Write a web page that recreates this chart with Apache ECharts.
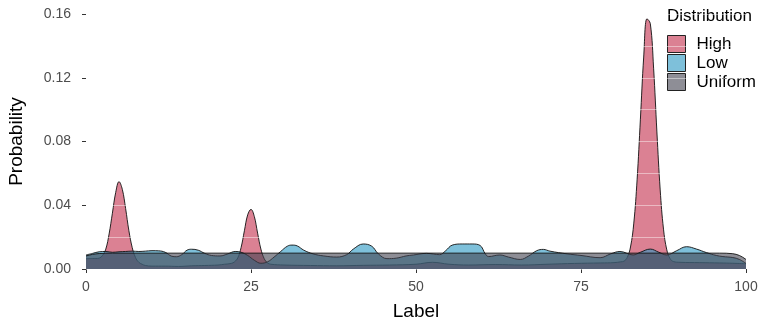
<!DOCTYPE html>
<html>
<head>
<meta charset="utf-8">
<script src="https://cdn.jsdelivr.net/npm/echarts@6/dist/echarts.min.js"></script>
<style>
  html, body { margin: 0; padding: 0; background: #fff; }
  #chart { width: 761px; height: 326px; }
</style>
</head>
<body>
<div id="chart"></div>
<script>
// density curves, as [label, probability]
var highPts = [
  [0, 0.0065], [1, 0.0066], [1.5, 0.0066], [2, 0.0068], [2.5, 0.0085], [3, 0.0125], [3.5, 0.022],
  [4, 0.035], [4.5, 0.048], [5, 0.0548], [5.5, 0.050], [6, 0.038], [6.5, 0.024], [7, 0.0135],
  [7.5, 0.0072], [8, 0.0042], [8.5, 0.003], [9, 0.0022], [10, 0.0018], [12, 0.0018], [14, 0.0016],
  [16, 0.002], [18, 0.0022], [20, 0.0025], [21, 0.003], [22, 0.0035], [22.5, 0.0045], [23, 0.007],
  [23.5, 0.0135], [24, 0.024], [24.5, 0.034], [25, 0.0374], [25.5, 0.033], [26, 0.0225], [26.5, 0.0125],
  [27, 0.0065], [27.5, 0.0038], [28, 0.003], [30, 0.0025], [34, 0.0022], [38, 0.002], [42, 0.0023],
  [46, 0.0025], [50, 0.003], [52.5, 0.0042], [55, 0.003], [58, 0.0025], [62, 0.0028], [66, 0.0025],
  [70, 0.003], [74, 0.0035], [78, 0.0038], [80, 0.004], [81, 0.0045], [81.5, 0.0049], [82, 0.0072],
  [82.5, 0.0138], [83, 0.0288], [83.5, 0.056], [84, 0.094], [84.5, 0.133], [85, 0.157], [85.5, 0.154],
  [86, 0.126], [86.5, 0.086], [87, 0.0496], [87.5, 0.025], [88, 0.012], [88.5, 0.0065], [89, 0.0047],
  [90, 0.0042], [93, 0.004], [96, 0.0038], [98, 0.0036], [100, 0.0033]
];
var lowPts = [
  [0, 0.0088], [1, 0.0098], [2, 0.0108], [3, 0.011], [4, 0.0105], [5, 0.0108], [6, 0.011],
  [7, 0.0112], [8, 0.011], [9, 0.0112], [10, 0.0115], [11, 0.0114], [12, 0.0105], [13, 0.008],
  [13.7, 0.0077], [14.5, 0.009], [15.3, 0.0118], [16, 0.0124], [17, 0.0118], [18, 0.0098], [19, 0.0085],
  [20.3, 0.0082], [21.5, 0.0095], [22.6, 0.011], [23.5, 0.0105], [24.5, 0.0085], [25.5, 0.0055],
  [26.5, 0.0036], [27.5, 0.0045], [28.5, 0.0075], [29.5, 0.011], [30.5, 0.0143], [31.2, 0.015],
  [32, 0.0145], [33, 0.0118], [34.4, 0.0095], [36, 0.0082], [38, 0.0075], [39.5, 0.009], [40.5, 0.0125],
  [42, 0.0157], [43.3, 0.0143], [44.3, 0.0095], [45.6, 0.0065], [47, 0.0068], [48.5, 0.0082],
  [49.6, 0.0088], [51.6, 0.0098], [53.6, 0.009], [54.5, 0.0115], [55.5, 0.015], [57, 0.0157],
  [58.5, 0.0157], [59.7, 0.0148], [60.5, 0.0095], [61, 0.0078], [62.7, 0.0088], [64, 0.0075],
  [65.8, 0.006], [67, 0.008], [68.3, 0.0115], [69.3, 0.0123], [70.3, 0.0112], [72.9, 0.0095],
  [75, 0.0085], [77.9, 0.0071], [79.5, 0.0095], [80.9, 0.011], [82.9, 0.0088], [84, 0.0105],
  [85.5, 0.0125], [86.8, 0.0105], [88, 0.0088], [89.5, 0.0115], [91, 0.014], [92.5, 0.0125],
  [94, 0.0103], [95.5, 0.0085], [96.5, 0.0078], [98, 0.0072], [99, 0.006], [100, 0.0035]
];
var uniformPts = [
  [0, 0.0082], [0.5, 0.0087], [1, 0.0092], [1.5, 0.0095], [2, 0.0097], [3, 0.0099], [4, 0.00995],
  [96, 0.00995], [97, 0.0099], [98, 0.0096], [98.5, 0.0092], [99, 0.0085], [99.5, 0.0074], [100, 0.006]
];
var names = ['High', 'Low', 'Uniform'];
var fills = ['#C32D4B', '#2896C1', '#434350'];
var keyFills = ['#DB8193', '#7EC0DA', '#8E8E96'];
var xTicks = [0, 25, 50, 75, 100];
var yTicks = [0, 0.04, 0.08, 0.12, 0.16];

var FONT = '"Liberation Sans", Arial, sans-serif';
var chart = echarts.init(document.getElementById('chart'));

function densitySeries(i, pts, smooth) {
  return {
    name: names[i],
    type: 'line',
    data: pts,
    smooth: smooth,
    showSymbol: false,
    silent: true,
    lineStyle: { color: '#111', width: 0.9 },
    areaStyle: { color: fills[i], opacity: 0.6 },
    z: 2 + i
  };
}

chart.setOption({
  animation: false,
  backgroundColor: '#fff',
  textStyle: { fontFamily: FONT },
  title: {
    text: 'Distribution',
    left: 662, top: 3,
    textStyle: { fontFamily: FONT, fontSize: 17, fontWeight: 'normal', color: '#000' }
  },
  legend: {
    orient: 'vertical',
    left: 662, top: 30,
    itemWidth: 18, itemHeight: 17,
    itemGap: 1,
    selectedMode: false,
    textStyle: { fontFamily: FONT, fontSize: 17, lineHeight: 17, color: '#000', padding: [0, 0, 0, 6] },
    data: names.map(function (n, i) {
      return { name: n, icon: 'rect', itemStyle: { color: keyFills[i], borderColor: '#222', borderWidth: 1, opacity: 1 } };
    })
  },
  grid: { left: 86, right: 15, top: 14, bottom: 57, outerBoundsMode: 'none', containLabel: false },
  xAxis: {
    type: 'value',
    min: xTicks[0], max: xTicks[xTicks.length - 1], interval: 25,
    offset: 8,
    name: 'Label', nameLocation: 'middle', nameGap: 25,
    nameTextStyle: { fontFamily: FONT, fontSize: 19, color: '#000' },
    axisLine: { show: false },
    axisTick: { show: true, length: 4, lineStyle: { color: '#333' } },
    axisLabel: { fontSize: 14, color: '#4d4d4d', margin: 3 },
    splitLine: { show: false }
  },
  yAxis: {
    type: 'value',
    min: yTicks[0], max: yTicks[yTicks.length - 1], interval: 0.04,
    offset: 6,
    z: 10,
    name: 'Probability', nameLocation: 'middle', nameGap: 54,
    nameTextStyle: { fontFamily: FONT, fontSize: 19, color: '#000' },
    axisLine: { show: false },
    axisTick: { show: true, length: 4, lineStyle: { color: '#333' } },
    axisLabel: { fontSize: 14, color: '#4d4d4d', margin: 9, formatter: function (v) { return v.toFixed(2); } },
    splitLine: { show: true, lineStyle: { color: 'rgba(255,255,255,0.45)', width: 1 } },
    minorTick: { show: false, splitNumber: 2 },
    minorSplitLine: { show: true, lineStyle: { color: 'rgba(255,255,255,0.45)', width: 1 } }
  },
  series: [
    densitySeries(0, highPts, 0.4),
    densitySeries(1, lowPts, 0.4),
    densitySeries(2, uniformPts, false)
  ]
});
</script>
</body>
</html>
